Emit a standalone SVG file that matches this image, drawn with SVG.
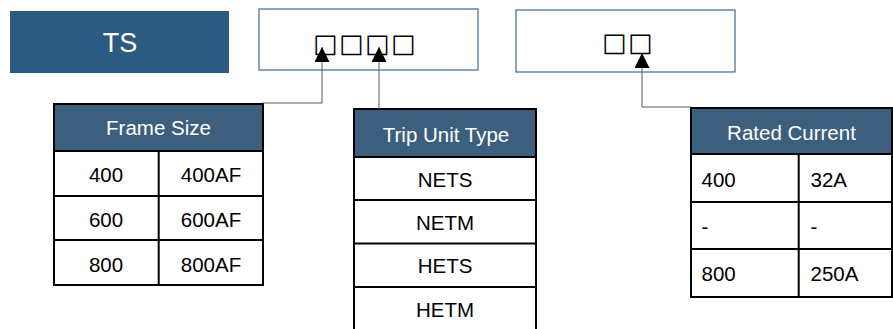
<svg xmlns="http://www.w3.org/2000/svg" width="893" height="329" viewBox="0 0 893 329">
<defs>
<style>
.t{font-family:"Liberation Sans",Arial,sans-serif;font-size:20.5px;fill:#000}
.h{font-family:"Liberation Sans",Arial,sans-serif;font-size:20.5px;fill:#fff}
.m{text-anchor:middle}
.hd{fill:#3B5F7D}
.cell{fill:#fff;stroke:#000;stroke-width:2}
.ln{stroke:#000;stroke-width:2;fill:none}
.box{fill:#fff;stroke:#4F7498;stroke-width:1.3}
.sq{font-family:"DejaVu Sans",sans-serif;font-size:26px;fill:#000}
.con{fill:none;stroke:#595959;stroke-width:1}
</style>
<marker id="arr" viewBox="0 0 10 10" refX="10" refY="5" markerWidth="15" markerHeight="15" markerUnits="userSpaceOnUse" orient="auto">
<path d="M0,0 L10,5 L0,10 z" fill="#000"/>
</marker>
</defs>
<rect width="893" height="329" fill="#fff"/>

<g id="ts">
<rect x="10" y="11" width="219" height="62" fill="#2D5A80"/>
<text x="120" y="52" class="m" style="font-family:'Liberation Sans',Arial,sans-serif;font-size:27px;fill:#fff">TS</text>
</g>

<g id="code4">
<rect x="259" y="9" width="219" height="61" class="box"/>
<text x="313 339 365 391" y="52" class="sq">□□□□</text>
</g>

<g id="code2">
<rect x="516" y="10" width="219" height="62" class="box"/>
<text x="602 628" y="51" class="sq">□□</text>
</g>

<g id="frame-size">
<rect x="54" y="104" width="209" height="181" class="cell"/>
<rect x="54" y="104" width="209" height="47" class="hd"/>
<path d="M54,151 H263 M54,196 H263 M54,240 H263 M158.7,151 V285" class="ln"/>
<rect x="54" y="104" width="209" height="181" class="ln"/>
<text x="158.5" y="135" class="h m">Frame Size</text>
<text x="106" y="182.3" class="t m">400</text>
<text x="211" y="182.3" class="t m">400AF</text>
<text x="106" y="227.3" class="t m">600</text>
<text x="211" y="227.3" class="t m">600AF</text>
<text x="106" y="271.7" class="t m">800</text>
<text x="211" y="271.7" class="t m">800AF</text>
</g>

<g id="trip-unit-type">
<rect x="354" y="109" width="182" height="225" class="cell"/>
<rect x="354" y="109" width="182" height="48" class="hd"/>
<path d="M354,157 H536 M354,200 H536 M354,243.5 H536 M354,287 H536" class="ln"/>
<rect x="354" y="109" width="182" height="225" class="ln"/>
<text x="446" y="141.7" class="h m">Trip Unit Type</text>
<text x="445" y="187.3" class="t m">NETS</text>
<text x="445" y="230" class="t m">NETM</text>
<text x="445" y="273.3" class="t m">HETS</text>
<text x="445" y="316.7" class="t m">HETM</text>
</g>

<g id="rated-current">
<rect x="691" y="108" width="201" height="189" class="cell"/>
<rect x="691" y="108" width="201" height="46" class="hd"/>
<path d="M691,154 H892 M691,202 H892 M691,249 H892 M798.7,154 V297" class="ln"/>
<rect x="691" y="108" width="201" height="189" class="ln"/>
<text x="791.5" y="140" class="h m">Rated Current</text>
<text x="701.5" y="186.7" class="t">400</text>
<text x="810.5" y="186.7" class="t">32A</text>
<text x="701.5" y="233.5" class="t">-</text>
<text x="810.5" y="233.5" class="t">-</text>
<text x="701.5" y="280.7" class="t">800</text>
<text x="810.5" y="280.7" class="t">250A</text>
</g>

<g id="connectors">
<polyline points="263,103 322,103 322,47" class="con" marker-end="url(#arr)"/>
<polyline points="379,109 379,47" class="con" marker-end="url(#arr)"/>
<polyline points="691,107 642,107 642,53" class="con" marker-end="url(#arr)"/>
</g>
</svg>
